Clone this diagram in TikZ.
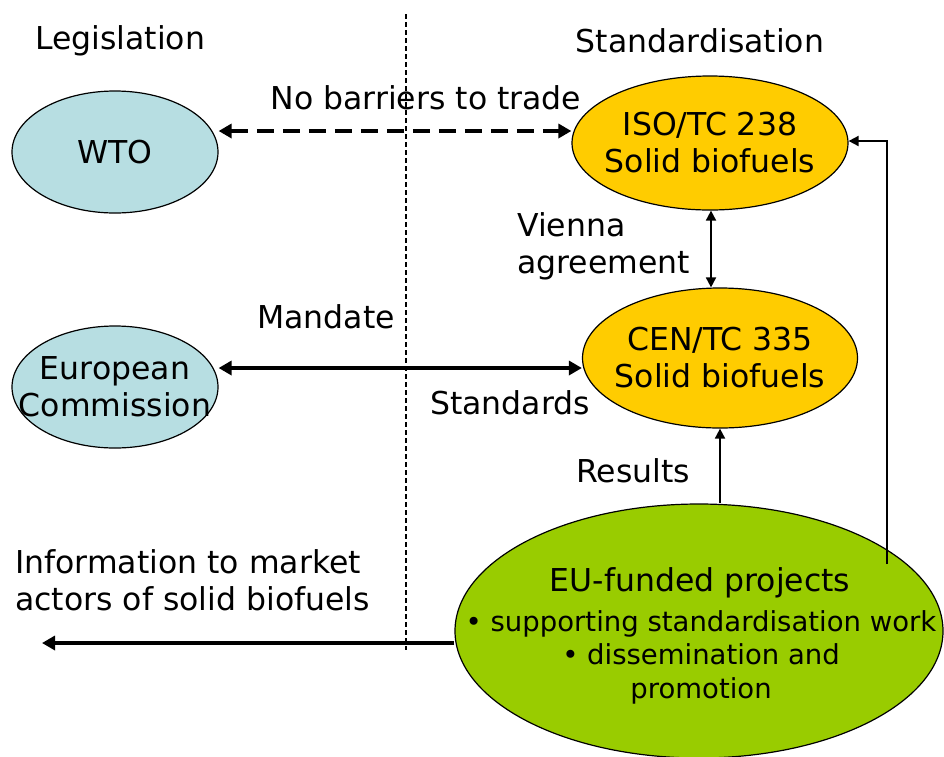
\documentclass[tikz,border=0pt]{standalone}
\usepackage{fontspec}
\setmainfont{DejaVu Sans}
\usetikzlibrary{shapes.geometric,arrows.meta}
\definecolor{lblue}{RGB}{183,222,226}
\definecolor{lorange}{RGB}{255,204,0}
\definecolor{lgreen}{RGB}{153,204,0}
\begin{document}
\begin{tikzpicture}[x=1pt,y=-1pt,
  txt/.style={font=\fontsize{31.5}{37}\selectfont, inner sep=0pt, align=center},
  small/.style={font=\fontsize{27.5}{33.5}\selectfont, inner sep=0pt, align=center},
  ell/.style={draw=black, line width=1.2pt, ellipse, inner sep=0pt},
  thick arrow/.style={line width=3.8pt, {Triangle[length=13pt,width=14pt]}-{Triangle[length=13pt,width=14pt]}},
  thin arrow/.style={line width=1.8pt, -{Triangle[length=10pt,width=10pt]}}]
\useasboundingbox (0,0) rectangle (944,756);
% divider
\coordinate (dtop) at (406,14);
\coordinate (dbot) at (406,650);
\draw[line width=1.4pt, dash pattern=on 5pt off 3pt] (dtop) -- (dbot);
% headings
\node[txt] (leg) at (120,41) {Legislation};
\node[txt] (std) at (700,41) {Standardisation};
% ellipses
\node[ell, fill=lblue, minimum width=206pt, minimum height=122pt] (wto) at (115,152) {};
\node[txt] (wtot) at (wto.center) {WTO};
\node[ell, fill=lblue, minimum width=206pt, minimum height=122pt] (ec) at (115,387) {};
\node[txt] (ect) at (ec.center) {European\\Commission};
\node[ell, fill=lorange, minimum width=276pt, minimum height=134pt] (iso) at (710,143) {};
\node[txt] (isot) at (iso.center) {ISO/TC 238\\Solid biofuels};
\node[ell, fill=lorange, minimum width=275pt, minimum height=140pt] (cen) at (720,358) {};
\node[txt] (cent) at (cen.center) {CEN/TC 335\\Solid biofuels};
\node[ell, fill=lgreen, minimum width=488pt, minimum height=254pt] (eu) at (699,631) {};
\node[txt] (eut) at (700,583) {EU-funded projects};
\node[small, anchor=north] (eub) at (701,610) {\textbullet\ supporting standardisation work\\\textbullet\ dissemination and\\promotion};
% connectors
\draw[thick arrow, dash pattern=on 17pt off 9pt] (wto.east |- 0,131) -- (iso.west |- 0,131);
\draw[thick arrow] (ec.east |- 0,368) -- (cen.west |- 0,368);
\draw[line width=1.8pt, {Triangle[length=10pt,width=10pt]}-{Triangle[length=10pt,width=10pt]}] (iso.south -| 711,0) -- (cen.north -| 711,0);
\draw[thin arrow] (eu.north -| 720,0) -- (cen.south -| 720,0);
\coordinate (fb) at (887,564);
\coordinate (fc) at (887,141);
\draw[thin arrow] (fb) -- (fc) -- (iso.east |- fc);
\coordinate (infoend) at (42,643);
\draw[line width=3.8pt, -{Triangle[length=13pt,width=14pt]}] (eu.west |- infoend) -- (infoend);
% labels
\node[txt] (nb) at (426,98) {No barriers to trade};
\node[txt, anchor=west, align=left] (va) at (517,246) {Vienna\\agreement};
\node[txt] (man) at (326,317) {Mandate};
\node[txt] (sta) at (510,403) {Standards};
\node[txt] (res) at (633,471) {Results};
\node[txt, anchor=west, align=left] (info) at (15,580) {Information to market\\actors of solid biofuels};
\end{tikzpicture}
\end{document}
